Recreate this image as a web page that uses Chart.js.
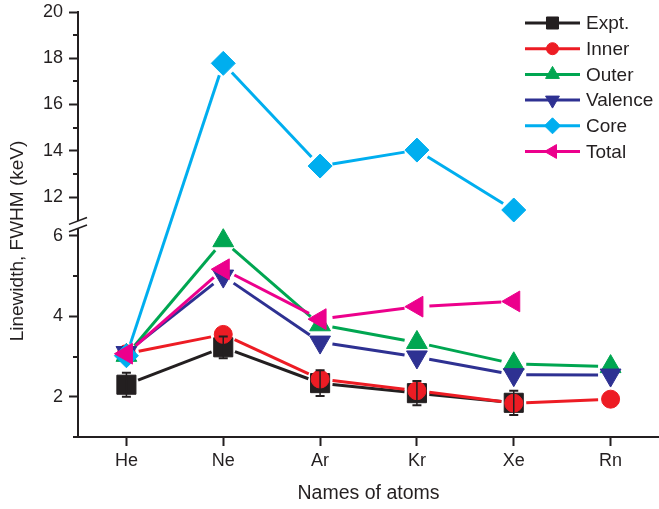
<!DOCTYPE html>
<html>
<head>
<meta charset="utf-8">
<script src="https://cdn.jsdelivr.net/npm/chart.js@4.4.1/dist/chart.umd.min.js"></script>
<style>
  html, body { margin: 0; padding: 0; background: #ffffff; }
  #wrap { width: 659px; height: 509px; }
</style>
</head>
<body>
<div id="wrap"><canvas id="chart" width="659" height="509"></canvas></div>
<script>
// Atoms on the x axis
const atoms = ['He', 'Ne', 'Ar', 'Kr', 'Xe', 'Rn'];

// Linewidth (FWHM, keV) per series
const expt     = [2.30, 3.23, 2.34, 2.09, 1.85, null];
const exptErr  = [0.30, 0.27, 0.32, 0.30, 0.30, null];
const inner    = [3.07, 3.55, 2.44, 2.15, 1.84, 1.94];
const outer    = [3.03, 5.88, 3.79, 3.35, 2.82, 2.75];
const valence  = [3.10, 5.00, 3.36, 2.99, 2.55, 2.54];
const core     = [3.02, 17.78, 13.34, 14.03, 11.44, null];
const total    = [3.07, 5.17, 3.93, 4.24, 4.37, null];

// Y axis tick values (the axis is broken between 6 and 12)
const majorTicks = [2, 4, 6, 12, 14, 16, 18, 20];
const minorTicks = [1, 3, 5, 13, 15, 17, 19];

const INK = '#231f20';
const FONT = '"Liberation Sans", Arial, Helvetica, sans-serif';

// Broken axis: lower segment 1..6.2, upper segment 11..20 drawn compressed
const BREAK = { lowerMin: 1, lowerMax: 6.2, upperMin: 11, upperMax: 20, upperScale: 0.575, gap: 0.19 };
function toVirtual(v) {
  const b = BREAK;
  const mid = (b.lowerMax + b.upperMin) / 2;
  if (v <= mid) return v - b.lowerMin;
  return (b.lowerMax - b.lowerMin) + b.gap + (v - b.upperMin) * b.upperScale;
}
function fromVirtual(u) {
  const b = BREAK;
  const lowSpan = b.lowerMax - b.lowerMin;
  if (u <= lowSpan + b.gap / 2) return u + b.lowerMin;
  return b.upperMin + (u - lowSpan - b.gap) / b.upperScale;
}
const VIRTUAL_MAX = toVirtual(BREAK.upperMax);

class BrokenLinearScale extends Chart.LinearScale {
  buildTicks() {
    return majorTicks.map(v => ({ value: v }));
  }
  getPixelForValue(value) {
    if (value === null || value === undefined || isNaN(value)) return NaN;
    return this.getPixelForDecimal(toVirtual(value) / VIRTUAL_MAX);
  }
  getValueForPixel(pixel) {
    return fromVirtual(this.getDecimalForPixel(pixel) * VIRTUAL_MAX);
  }
}
BrokenLinearScale.id = 'brokenLinear';
BrokenLinearScale.defaults = Chart.LinearScale.defaults;
Chart.register(BrokenLinearScale);

const series = [
  { label: 'Expt.',   data: expt,    color: INK,       style: 'rect',     rotation: 0,   radius: 13.5, legendRadius: 8.5 },
  { label: 'Inner',   data: inner,   color: '#ed1c24', style: 'circle',   rotation: 0,   radius: 9,    legendRadius: 6 },
  { label: 'Outer',   data: outer,   color: '#00a651', style: 'triangle', rotation: 0,   radius: 12,   legendRadius: 8 },
  { label: 'Valence', data: valence, color: '#2e3192', style: 'triangle', rotation: 180, radius: 12,   legendRadius: 8 },
  { label: 'Core',    data: core,    color: '#00aeef', style: 'rectRot',  rotation: 0,   radius: 12,   legendRadius: 8 },
  { label: 'Total',   data: total,   color: '#ec008c', style: 'triangle', rotation: 270, radius: 12,   legendRadius: 8 }
];

const datasets = series.map((s, i) => ({
  label: s.label,
  data: s.data,
  showLine: false,
  borderColor: s.color,
  backgroundColor: s.color,
  pointStyle: s.style,
  pointRotation: s.rotation,
  pointRadius: s.radius,
  pointHoverRadius: s.radius,
  pointBackgroundColor: s.color,
  pointBorderColor: s.color,
  pointBorderWidth: 1,
  order: series.length - 1 - i,
  clip: false
}));

// Connecting lines that stop short of each symbol
const gapLines = {
  id: 'gapLines',
  beforeDatasetsDraw(chart) {
    const ctx = chart.ctx;
    const GAP = 12.5;
    chart.data.datasets.forEach((ds, i) => {
      const meta = chart.getDatasetMeta(i);
      const pts = meta.data.filter((p, j) => ds.data[j] !== null && ds.data[j] !== undefined);
      ctx.save();
      ctx.strokeStyle = ds.borderColor;
      ctx.lineWidth = 3;
      ctx.lineCap = 'butt';
      for (let k = 0; k < pts.length - 1; k++) {
        const a = pts[k], b = pts[k + 1];
        const dx = b.x - a.x, dy = b.y - a.y;
        const len = Math.hypot(dx, dy);
        if (len <= 2 * GAP) continue;
        const ux = dx / len, uy = dy / len;
        ctx.beginPath();
        ctx.moveTo(a.x + ux * GAP, a.y + uy * GAP);
        ctx.lineTo(b.x - ux * GAP, b.y - uy * GAP);
        ctx.stroke();
      }
      ctx.restore();
    });
  }
};

// Error bars on the experimental values
const errorBars = {
  id: 'errorBars',
  afterDatasetsDraw(chart) {
    const ctx = chart.ctx;
    const y = chart.scales.y;
    const meta = chart.getDatasetMeta(0);
    ctx.save();
    ctx.strokeStyle = INK;
    meta.data.forEach((p, j) => {
      if (expt[j] === null || exptErr[j] === null) return;
      const yTop = y.getPixelForValue(expt[j] + exptErr[j]);
      const yBot = y.getPixelForValue(expt[j] - exptErr[j]);
      ctx.lineWidth = 1.5;
      ctx.beginPath();
      ctx.moveTo(p.x, yTop); ctx.lineTo(p.x, yBot);
      ctx.stroke();
      ctx.lineWidth = 2;
      ctx.beginPath();
      ctx.moveTo(p.x - 4.5, yTop); ctx.lineTo(p.x + 4.5, yTop);
      ctx.moveTo(p.x - 4.5, yBot); ctx.lineTo(p.x + 4.5, yBot);
      ctx.stroke();
    });
    ctx.restore();
  }
};

// Minor ticks, axis break marks, y title and legend
const decorations = {
  id: 'decorations',
  afterDraw(chart) {
    const ctx = chart.ctx;
    const y = chart.scales.y;
    const left = chart.chartArea.left;
    ctx.save();
    ctx.strokeStyle = INK;
    ctx.lineWidth = 2;
    minorTicks.forEach(v => {
      const py = Math.round(y.getPixelForValue(v));
      ctx.beginPath();
      ctx.moveTo(left - 5, py); ctx.lineTo(left, py);
      ctx.stroke();
    });

    // axis break
    const yA = y.getPixelForValue(BREAK.upperMin) + 0.8;
    const yB = y.getPixelForValue(BREAK.lowerMax) + 0.6;
    ctx.fillStyle = '#ffffff';
    ctx.fillRect(left - 3, yA, 6, yB - yA);
    ctx.lineWidth = 1.6;
    [yA, yB].forEach(yc => {
      ctx.beginPath();
      ctx.moveTo(left - 9, yc + 3.4);
      ctx.lineTo(left + 9, yc - 3.4);
      ctx.stroke();
    });

    // y axis title
    ctx.fillStyle = INK;
    ctx.font = '19px ' + FONT;
    ctx.textAlign = 'center';
    ctx.textBaseline = 'middle';
    ctx.translate(18, 241);
    ctx.rotate(-Math.PI / 2);
    ctx.fillText('Linewidth, FWHM (keV)', 0, 0);
    ctx.restore();

    // legend
    ctx.save();
    const x0 = 525, x1 = 580, xm = 552.5, xt = 586, y0 = 23, dy = 25.7;
    series.forEach((s, i) => {
      const ly = y0 + i * dy;
      ctx.strokeStyle = s.color;
      ctx.fillStyle = s.color;
      ctx.lineWidth = 3;
      ctx.beginPath();
      ctx.moveTo(x0, ly); ctx.lineTo(x1, ly);
      ctx.stroke();
      ctx.lineWidth = 1;
      Chart.helpers.drawPoint(ctx, {
        pointStyle: s.style, rotation: s.rotation, radius: s.legendRadius, borderWidth: 1
      }, xm, ly);
      ctx.fillStyle = INK;
      ctx.font = '19px ' + FONT;
      ctx.textAlign = 'left';
      ctx.textBaseline = 'middle';
      ctx.fillText(s.label, xt, ly + 1);
    });
    ctx.restore();
  }
};

new Chart(document.getElementById('chart'), {
  type: 'line',
  data: { labels: atoms, datasets },
  plugins: [gapLines, errorBars, decorations],
  options: {
    responsive: false,
    devicePixelRatio: 1,
    animation: false,
    layout: { autoPadding: false, padding: { top: 12, right: 0, bottom: 0, left: 0 } },
    plugins: { legend: { display: false }, tooltip: { enabled: false } },
    scales: {
      x: {
        type: 'category',
        offset: true,
        grid: { display: true, offset: false, drawOnChartArea: false, drawTicks: true, tickLength: 9, tickWidth: 2, tickColor: INK },
        border: { display: true, color: INK, width: 2 },
        ticks: { color: INK, font: { family: FONT, size: 18 }, padding: 4, autoSkip: false, maxRotation: 0 },
        title: { display: true, text: 'Names of atoms', color: INK, font: { family: FONT, size: 19.5 }, padding: { top: 0, bottom: 4 } },
        afterFit(scale) { scale.height = 72; scale.paddingLeft = 0; scale.paddingRight = 0; }
      },
      y: {
        type: 'brokenLinear',
        min: 1,
        max: 20,
        grid: { display: true, drawOnChartArea: false, drawTicks: true, tickLength: 9, tickWidth: 2, tickColor: INK },
        border: { display: true, color: INK, width: 2 },
        ticks: { color: INK, font: { family: FONT, size: 18 }, padding: 6, autoSkip: false, callback: v => String(v) },
        afterFit(scale) { scale.width = 78; scale.paddingTop = 0; scale.paddingBottom = 0; }
      }
    }
  }
});
</script>
</body>
</html>
